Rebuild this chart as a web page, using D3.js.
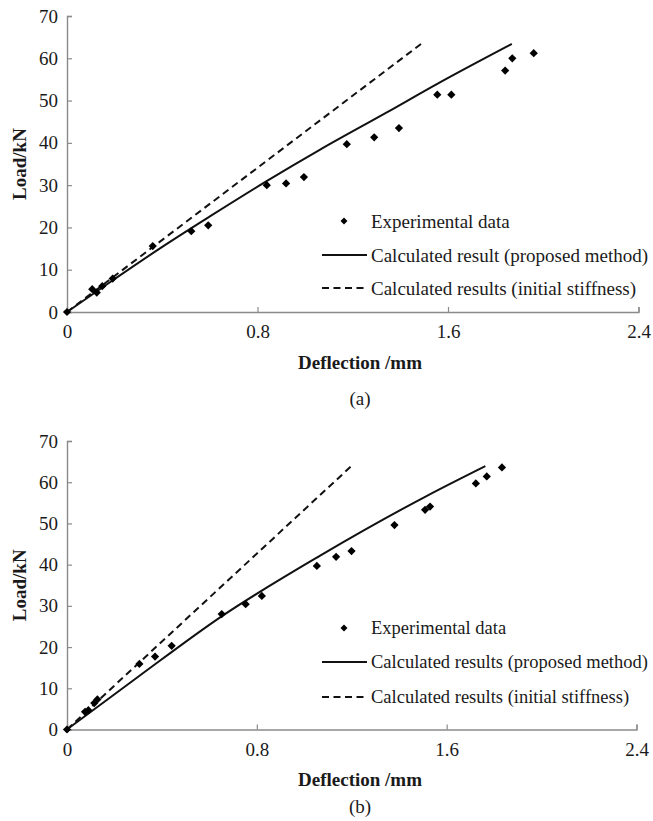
<!DOCTYPE html>
<html>
<head>
<meta charset="utf-8">
<script src="https://cdn.jsdelivr.net/npm/d3@7"></script>
<style>
  html, body { margin: 0; padding: 0; background: #fff; }
  svg { display: block; }
  svg text { font-family: "Liberation Serif", "Times New Roman", Times, Tinos, "DejaVu Serif", serif; fill: #1a1a1a; }
</style>
</head>
<body>
<svg id="chart" width="653" height="821"></svg>
<script>
// ---- Data ----
const xTicks = [0, 0.8, 1.6, 2.4];
const yTicks = [0, 10, 20, 30, 40, 50, 60, 70];

// Panel (a)
const aExpX = [0, 0.106, 0.125, 0.148, 0.192, 0.36, 0.522, 0.593, 0.839, 0.92, 0.995, 1.175, 1.29, 1.394, 1.555, 1.614, 1.84, 1.87, 1.96];
const aExpY = [0, 5.4, 4.6, 6.1, 7.9, 15.6, 19.1, 20.5, 30.0, 30.4, 31.9, 39.7, 41.3, 43.5, 51.4, 51.4, 57.1, 60.0, 61.2];
const aCalcX = [0, 0.2, 0.4, 0.6, 0.84, 1.063, 1.343, 1.553, 1.868];
const aCalcY = [0, 7.8, 15.4, 22.6, 31.0, 38.4, 47.2, 53.9, 63.4];
const aInitX = [0, 1.494];
const aInitY = [0, 63.7];
const aLegend = ["Experimental data", "Calculated result (proposed method)", "Calculated results (initial stiffness)"];

// Panel (b)
const bExpX = [0, 0.076, 0.09, 0.115, 0.128, 0.305, 0.371, 0.441, 0.652, 0.753, 0.821, 1.053, 1.134, 1.199, 1.38, 1.509, 1.53, 1.723, 1.769, 1.833];
const bExpY = [0, 4.3, 4.7, 6.4, 7.3, 15.9, 17.7, 20.3, 28.0, 30.4, 32.4, 39.7, 41.9, 43.3, 49.6, 53.3, 54.1, 59.7, 61.4, 63.6];
const bCalcX = [0, 0.3, 0.65, 1.067, 1.517, 1.763];
const bCalcY = [0, 12.8, 27.4, 42.2, 56.7, 63.9];
const bInitX = [0, 1.198];
const bInitY = [0, 63.9];
const bLegend = ["Experimental data", "Calculated results (proposed method)", "Calculated results (initial stiffness)"];

const xLabel = "Deflection /mm";
const yLabel = "Load/kN";

// ---- Drawing ----
const FONT = '"Liberation Serif", "Times New Roman", Times, Tinos, "DejaVu Serif", serif';
const svg = d3.select("#chart");
const zip = (xs, ys) => xs.map((x, i) => [x, ys[i]]);

function panel(cfg) {
  const x = d3.scaleLinear().domain([0, 2.4]).range([cfg.x0, cfg.x1]);
  const y = d3.scaleLinear().domain([0, 70]).range([cfg.y0, cfg.y1]);
  const g = svg.append("g");

  // axes
  const xAxis = d3.axisBottom(x).tickValues(xTicks).tickSize(-5).tickPadding(12)
    .tickFormat(d => d === 0 ? "0" : d3.format(".1f")(d));
  const gx = g.append("g").attr("transform", `translate(0,${cfg.y0})`).call(xAxis)
    .attr("font-family", FONT);
  gx.select(".domain").attr("stroke", "#8a8a8a").attr("stroke-width", 1.4);
  gx.selectAll(".tick line").attr("stroke", "#8a8a8a").attr("stroke-width", 1.2)
    .filter(d => d === 0).remove();
  gx.selectAll(".tick text").attr("font-size", 19).attr("fill", "#1a1a1a")
    .attr("dy", "0.71em").attr("y", 13);

  const yAxis = d3.axisLeft(y).tickValues(yTicks).tickSize(-5).tickPadding(9);
  const gy = g.append("g").attr("transform", `translate(${cfg.x0},0)`).call(yAxis)
    .attr("font-family", FONT);
  gy.select(".domain").attr("stroke", "#8a8a8a").attr("stroke-width", 1.4);
  gy.selectAll(".tick line").attr("stroke", "#8a8a8a").attr("stroke-width", 1.2);
  gy.selectAll(".tick text").attr("font-size", 19).attr("fill", "#1a1a1a");

  // lines
  const line = d3.line().x(d => x(d[0])).y(d => y(d[1])).curve(d3.curveMonotoneX);
  g.append("path").datum(zip(cfg.initX, cfg.initY)).attr("d", line)
    .attr("fill", "none").attr("stroke", "#111").attr("stroke-width", 2)
    .attr("stroke-dasharray", "7,4.5");
  g.append("path").datum(zip(cfg.calcX, cfg.calcY)).attr("d", line)
    .attr("fill", "none").attr("stroke", "#111").attr("stroke-width", 2);

  // points
  const diamond = d3.symbol().type(d3.symbolSquare).size(34)();
  g.selectAll("path.pt").data(zip(cfg.expX, cfg.expY)).join("path")
    .attr("class", "pt").attr("d", diamond)
    .attr("transform", d => `translate(${x(d[0])},${y(d[1])}) rotate(45)`)
    .attr("fill", "#000");

  // axis titles
  g.append("text").attr("x", 360).attr("y", cfg.xTitleY).attr("text-anchor", "middle")
    .attr("dominant-baseline", "central").attr("font-size", 19).attr("font-weight", "bold")
    .attr("font-family", FONT).text(xLabel);
  g.append("text").attr("transform", `translate(19,${(cfg.y0 + cfg.y1) / 2}) rotate(-90)`)
    .attr("text-anchor", "middle").attr("dominant-baseline", "central")
    .attr("font-size", 19).attr("font-weight", "bold").attr("font-family", FONT).text(yLabel);
  g.append("text").attr("x", 360).attr("y", cfg.capY).attr("text-anchor", "middle")
    .attr("dominant-baseline", "central").attr("font-size", 19).attr("font-family", FONT)
    .text(cfg.caption);

  // legend
  const lg = g.append("g");
  const rows = cfg.legRows;
  lg.append("path").attr("d", d3.symbol().type(d3.symbolSquare).size(24)())
    .attr("transform", `translate(344,${rows[0]}) rotate(45)`).attr("fill", "#000");
  lg.append("line").attr("x1", 322).attr("x2", 367).attr("y1", rows[1]).attr("y2", rows[1])
    .attr("stroke", "#111").attr("stroke-width", 2);
  lg.append("line").attr("x1", 322).attr("x2", 367).attr("y1", rows[2]).attr("y2", rows[2])
    .attr("stroke", "#111").attr("stroke-width", 2).attr("stroke-dasharray", "7,4.5");
  cfg.legend.forEach((t, i) => {
    lg.append("text").attr("x", 371).attr("y", rows[i]).attr("dominant-baseline", "central")
      .attr("font-size", cfg.legSize).attr("font-family", FONT).text(t);
  });
}

panel({
  x0: 67, x1: 638.5, y0: 312, y1: 16,
  expX: aExpX, expY: aExpY, calcX: aCalcX, calcY: aCalcY, initX: aInitX, initY: aInitY,
  legend: aLegend, legRows: [221, 255, 288], legSize: 19,
  xTitleY: 362, capY: 398, caption: "(a)"
});
panel({
  x0: 67, x1: 636.5, y0: 729.5, y1: 441,
  expX: bExpX, expY: bExpY, calcX: bCalcX, calcY: bCalcY, initX: bInitX, initY: bInitY,
  legend: bLegend, legRows: [628, 662, 697], legSize: 18.5,
  xTitleY: 779, capY: 806, caption: "(b)"
});
</script>
</body>
</html>
